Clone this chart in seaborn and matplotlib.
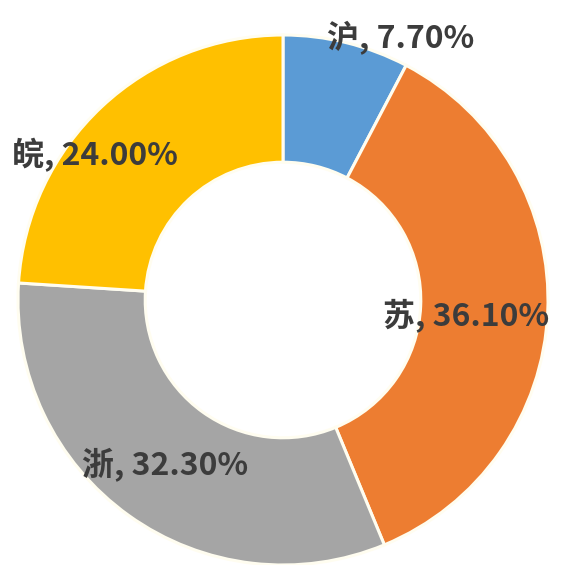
import matplotlib
matplotlib.use("Agg")
import matplotlib.pyplot as plt
import seaborn as sns

sns.set_theme(style="white")
plt.rcParams["font.family"] = ["Noto Sans CJK SC", "DejaVu Sans"]

# Regional shares (percent)
regions = ["沪", "苏", "浙", "皖"]
shares = [7.70, 36.10, 32.30, 24.00]
colors = ["#5B9BD5", "#ED7D31", "#A5A5A5", "#FFC000"]

W, H = 566, 565
fig = plt.figure(figsize=(W / 100, H / 100), dpi=100)
ax = fig.add_axes([0, 0, 1, 1])

# ring geometry in pixel units (y measured from the top edge)
cx, cy, R = 283, 300, 265
ring = 0.48

ax.pie(
    shares,
    colors=colors,
    startangle=90,
    counterclock=False,
    radius=R,
    center=(cx, H - cy),
    wedgeprops=dict(width=R * ring, edgecolor="#FFFDF0", linewidth=2.2),
    frame=True,
)
ax.set_xlim(0, W)
ax.set_ylim(0, H)
ax.set_aspect("equal")
ax.axis("off")

# label anchor points (pixels from the top-left corner)
label_pos = [(401, 38), (466, 315), (165, 465), (95, 155)]
for name, val, (x, y) in zip(regions, shares, label_pos):
    ax.text(x, H - y, f"{name}, {val:.2f}%", ha="center", va="center",
            fontsize=23, fontweight="bold", color="#3C3C3C")

fig.savefig("out.png", dpi=100, facecolor="white")
